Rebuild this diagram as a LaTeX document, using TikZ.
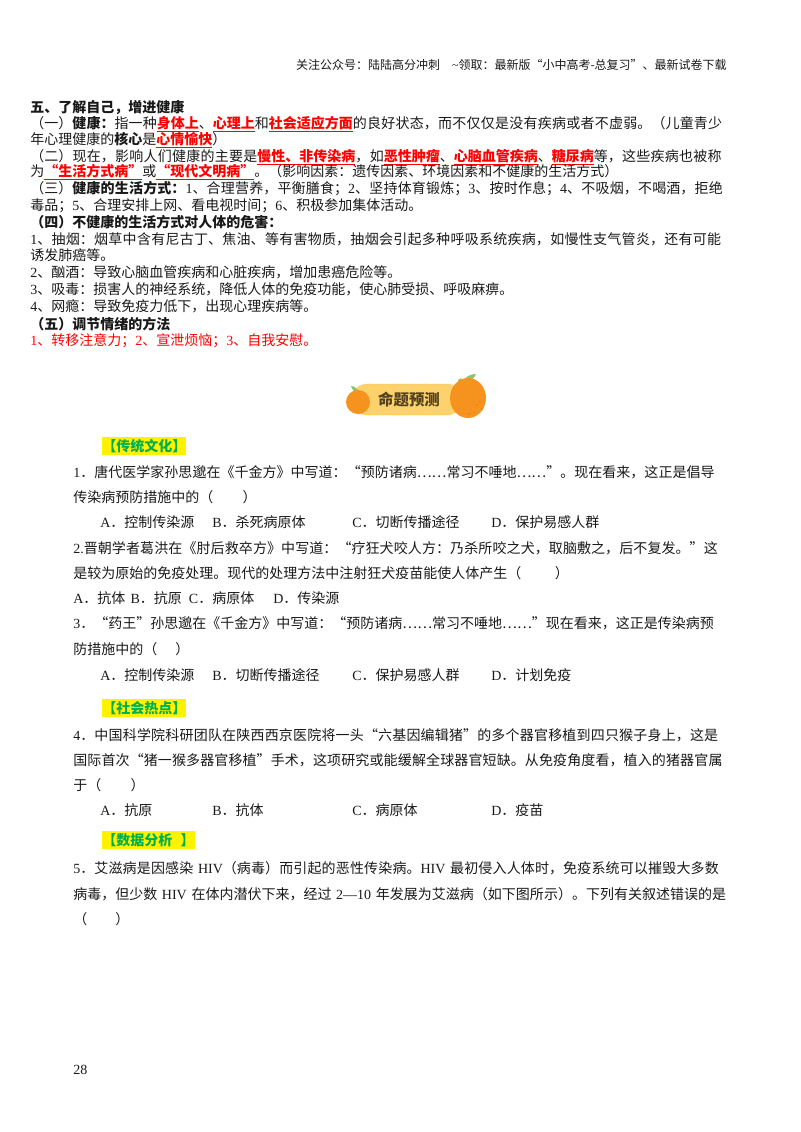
\documentclass[tikz,border=0pt]{standalone}
\usepackage{fontspec}
\setmainfont{Noto Sans CJK SC}
\newfontfamily\latfont{Liberation Serif}
\newcommand{\lat}[1]{{\latfont #1}}
\XeTeXlinebreaklocale "zh"
\XeTeXlinebreakskip=0pt plus 1pt minus 0.3pt
\definecolor{dialinered}{rgb}{1.000000, 0.000000, 0.000000}
\definecolor{dialinetext}{rgb}{0.100000, 0.100000, 0.100000}
\definecolor{dialinegreen}{rgb}{0.000000, 0.690000, 0.310000}
\definecolor{dialineband}{rgb}{0.992000, 0.820000, 0.420000}
\definecolor{dialineedge}{rgb}{0.980000, 0.730000, 0.280000}
\definecolor{dialineorange}{rgb}{0.965000, 0.575000, 0.120000}
\definecolor{dialinedot}{rgb}{0.900000, 0.330000, 0.130000}
\definecolor{dialineleaf}{rgb}{0.560000, 0.770000, 0.420000}
\definecolor{dialinebrown}{rgb}{0.330000, 0.260000, 0.120000}
\newcommand{\redul}[1]{\textcolor{dialinered}{\underline{\textbf{#1}}}}
\tikzset{
  txt/.style={anchor=base west,inner sep=0pt,text=dialinetext,yshift=-0.75pt},
  upper/.style={txt,font=\fontsize{10.5pt}{12pt}\selectfont},
  lower/.style={txt,font=\fontsize{10.5pt}{12pt}\selectfont},
  full/.style={text width=#1,execute at begin node={\parfillskip=0pt \tolerance=9999 }},
  tag/.style={anchor=west,inner sep=0pt,fill=yellow,text=dialinegreen,
    minimum height=13.5pt,font=\fontsize{10.5pt}{12pt}\selectfont\bfseries},
}
\begin{document}
\begin{tikzpicture}[x=0.75pt,y=-0.75pt]
\useasboundingbox (0,0) rectangle (800,1132);
% page head
\node[txt,anchor=base east,font=\fontsize{9pt}{11pt}\selectfont] (head) at (727,68) {关注公众号：陆陆高分冲刺\quad\lat{\textasciitilde}领取：最新版“小中高考-总复习”、最新试卷下载};
% revision notes
\node[upper] (sec) at (30,111) {\textbf{五、了解自己，增进健康}};
\node[upper,full=522.75pt] (a1) at (30,127) {（一）\textbf{健康：}指一种\redul{身体上}、\redul{心理上}和\redul{社会适应方面}的良好状态，而不仅仅是没有疾病或者不虚弱。（儿童青少};
\node[upper] (a2) at (30,143) {年心理健康的\textbf{核心}是\redul{心情愉快}）};
\node[upper,full=522.75pt] (b1) at (30,160) {（二）现在，影响人们健康的主要是\redul{慢性、非传染病}，如\redul{恶性肿瘤}、\redul{心脑血管疾病}、\redul{糖尿病}等，这些疾病也被称};
\node[upper,full=441pt] (b2) at (30,175) {为\redul{“生活方式病”}或\redul{“现代文明病”}。（影响因素：遗传因素、环境因素和不健康的生活方式）};
\node[upper,full=522.75pt] (c1) at (30,192) {（三）\textbf{健康的生活方式：}\lat{1}、合理营养，平衡膳食；\lat{2}、坚持体育锻炼；\lat{3}、按时作息；\lat{4}、不吸烟，不喝酒，拒绝};
\node[upper] (c2) at (30,209) {毒品；\lat{5}、合理安排上网、看电视时间；\lat{6}、积极参加集体活动。};
\node[upper] (d0) at (30,226) {\textbf{（四）不健康的生活方式对人体的危害：}};
\node[upper,full=522.75pt] (d1) at (30,243) {\lat{1}、抽烟：烟草中含有尼古丁、焦油、等有害物质，抽烟会引起多种呼吸系统疾病，如慢性支气管炎，还有可能};
\node[upper] (d2) at (30,259) {诱发肺癌等。};
\node[upper] (d3) at (30,276) {\lat{2}、酗酒：导致心脑血管疾病和心脏疾病，增加患癌危险等。};
\node[upper] (d4) at (30,293) {\lat{3}、吸毒：损害人的神经系统，降低人体的免疫功能，使心肺受损、呼吸麻痹。};
\node[upper] (d5) at (30,310) {\lat{4}、网瘾：导致免疫力低下，出现心理疾病等。};
\node[upper] (e0) at (30,328) {\textbf{（五）调节情绪的方法}};
\node[upper,text=dialinered] (e1) at (30,344) {\lat{1}、转移注意力；\lat{2}、宣泄烦恼；\lat{3}、自我安慰。};
% banner
\fill[dialineband,rounded corners=11pt] (352,384) rectangle (462,415);
\draw[dialineedge,densely dotted,rounded corners=11pt] (352,384) rectangle (462,415);
\fill[dialineleaf] (360,393) .. controls (357,388) and (354,386) .. (351,386) .. controls (352,390) and (355,393) .. (360,393) -- cycle;
\fill[dialineorange] (358,402) circle (12);
\fill[dialineleaf] (462,382) .. controls (466,376) and (471,374) .. (476,374) .. controls (474,380) and (468,383) .. (462,382) -- cycle;
\fill[dialineleaf] (458,380) -- (461,378) -- (464,388) -- (460,388) -- cycle;
\fill[dialineorange] (468,398) ellipse (18 and 20);
\foreach \dotx/\doty in {477/405,480/402,474/412,469/414,482/409}
  \fill[dialinedot] (\dotx,\doty) circle (0.7);
\node[anchor=center,inner sep=0pt,text=dialinebrown,font=\fontsize{11.6pt}{14pt}\selectfont\bfseries] (bannertxt) at (409,400) {命题预测};
% questions
\node[tag] (tag1) at (102,446) {【传统文化】\hspace{3pt}};
\node[lower,full=481.5pt] (q1a) at (73,476) {\lat{1}．唐代医学家孙思邈在《千金方》中写道：“预防诸病……常习不唾地……”。现在看来，这正是倡导};
\node[lower] (q1b) at (73,501) {传染病预防措施中的（\hspace{2.1em}）};
\node[lower] (q1oa) at (100,526) {\lat{A}．控制传染源};
\node[lower] (q1ob) at (212,526) {\lat{B}．杀死病原体};
\node[lower] (q1oc) at (352,526) {\lat{C}．切断传播途径};
\node[lower] (q1od) at (491,526) {\lat{D}．保护易感人群};
\node[lower,full=485.25pt] (q2a) at (73,552) {\lat{2.}晋朝学者葛洪在《肘后救卒方》中写道：“疗狂犬咬人方：乃杀所咬之犬，取脑敷之，后不复发。”这};
\node[lower] (q2b) at (73,577) {是较为原始的免疫处理。现代的处理方法中注射狂犬疫苗能使人体产生（\hspace{2.4em}）};
\node[lower] (q2o) at (73,602) {\lat{A}．抗体\hspace{1.5pt} \lat{B}．抗原\hspace{3pt} \lat{C}．病原体\hspace{3.75pt}\quad \lat{D}．传染源};
\node[lower,full=480.75pt] (q3a) at (73,627) {\lat{3}．“药王”孙思邈在《千金方》中写道：“预防诸病……常习不唾地……”现在看来，这正是传染病预};
\node[lower] (q3b) at (73,653) {防措施中的（\hspace{1.3em}）};
\node[lower] (q3oa) at (100,679) {\lat{A}．控制传染源};
\node[lower] (q3ob) at (212,679) {\lat{B}．切断传播途径};
\node[lower] (q3oc) at (352,679) {\lat{C}．保护易感人群};
\node[lower] (q3od) at (491,679) {\lat{D}．计划免疫};
\node[tag] (tag2) at (102,708) {【社会热点】};
\node[lower,full=486.75pt] (q4a) at (73,739) {\lat{4}．中国科学院科研团队在陕西西京医院将一头“六基因编辑猪”的多个器官移植到四只猴子身上，这是};
\node[lower,full=489pt] (q4b) at (73,764) {国际首次“猪一猴多器官移植”手术，这项研究或能缓解全球器官短缺。从免疫角度看，植入的猪器官属};
\node[lower] (q4c) at (73,789) {于（\hspace{2.1em}）};
\node[lower] (q4oa) at (100,814) {\lat{A}．抗原};
\node[lower] (q4ob) at (212,814) {\lat{B}．抗体};
\node[lower] (q4oc) at (352,814) {\lat{C}．病原体};
\node[lower] (q4od) at (491,814) {\lat{D}．疫苗};
\node[tag] (tag3) at (102,840) {【数据分析\hspace{0.6em}】};
\node[lower,full=486.75pt] (q5a) at (73,872) {\lat{5}．艾滋病是因感染 \lat{HIV}（病毒）而引起的恶性传染病。\lat{HIV} 最初侵入人体时，免疫系统可以摧毁大多数};
\node[lower,full=489.75pt] (q5b) at (73,898) {病毒，但少数 \lat{HIV} 在体内潜伏下来，经过 \lat{2—10} 年发展为艾滋病（如下图所示）。下列有关叙述错误的是};
\node[lower] (q5c) at (73,923) {（\hspace{2em}）};
% page number
\node[txt,font=\fontsize{10.5pt}{12pt}\selectfont\latfont] (pagenum) at (73,1073) {28};
\end{tikzpicture}
\end{document}
